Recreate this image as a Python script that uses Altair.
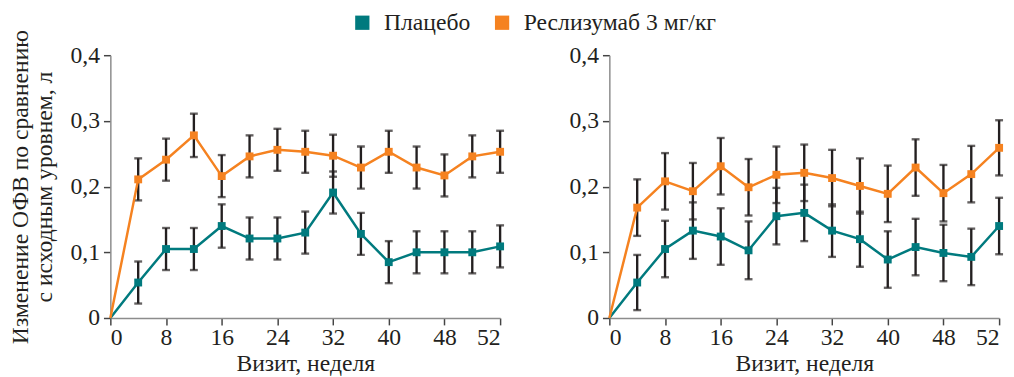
import altair as alt
import pandas as pd

# x positions of visits (evenly spaced, as drawn); tick labels as printed on the axis
visit_pos = [0, 4, 8, 12, 16, 20, 24, 28, 32, 36, 40, 44, 48, 52, 56]
x_tick_values = [0, 8, 16, 24, 32, 40, 48, 56]
x_tick_labels = ["0", "8", "16", "24", "32", "40", "48", "52"]
y_tick_values = [0, 0.1, 0.2, 0.3, 0.4]

groups = ["Плацебо", "Реслизумаб 3 мг/кг"]
colors = ["#007A7E", "#F58220"]

# Left panel
left_placebo = [0, 0.054, 0.105, 0.105, 0.140, 0.121, 0.121, 0.130, 0.191, 0.128, 0.085, 0.100, 0.100, 0.100, 0.109]
left_placebo_err = [0, 0.032, 0.032, 0.032, 0.033, 0.032, 0.032, 0.032, 0.032, 0.032, 0.032, 0.032, 0.032, 0.032, 0.032]
left_resl = [0, 0.211, 0.241, 0.278, 0.216, 0.246, 0.256, 0.253, 0.247, 0.229, 0.253, 0.229, 0.217, 0.246, 0.253]
left_resl_err = [0, 0.032, 0.032, 0.033, 0.032, 0.032, 0.032, 0.032, 0.032, 0.032, 0.032, 0.032, 0.032, 0.032, 0.032]

# Right panel
right_placebo = [0, 0.054, 0.105, 0.133, 0.124, 0.103, 0.155, 0.160, 0.133, 0.120, 0.089, 0.108, 0.099, 0.093, 0.140]
right_placebo_err = [0, 0.042, 0.043, 0.043, 0.043, 0.044, 0.043, 0.043, 0.040, 0.042, 0.043, 0.043, 0.043, 0.043, 0.043]
right_resl = [0, 0.168, 0.208, 0.193, 0.231, 0.199, 0.218, 0.221, 0.213, 0.201, 0.189, 0.229, 0.190, 0.219, 0.259]
right_resl_err = [0, 0.043, 0.043, 0.043, 0.043, 0.043, 0.043, 0.043, 0.043, 0.042, 0.043, 0.043, 0.043, 0.043, 0.042]

FONT = "Liberation Serif"
INK = "#231F20"
FS = 24


def make_df(placebo, placebo_err, resl, resl_err):
    rows = []
    for g, vals, errs in [(groups[0], placebo, placebo_err), (groups[1], resl, resl_err)]:
        for x, v, e in zip(visit_pos, vals, errs):
            rows.append({"x": x, "group": g, "value": v, "lo": v - e, "hi": v + e})
    return pd.DataFrame(rows)


label_expr = ""
for v, l in zip(x_tick_values, x_tick_labels):
    label_expr += f"datum.value == {v} ? '{l}' : "
label_expr += "''"

y_label_expr = "datum.value == 0 ? '0' : replace(format(datum.value, '.1f'), '.', ',')"

axis_style = dict(labelFont=FONT, titleFont=FONT, labelFontSize=FS, titleFontSize=FS,
                  titleFontWeight="normal", labelColor=INK, titleColor=INK,
                  domainColor="#8C8C8C", domainWidth=1.5, tickColor="#444444",
                  tickWidth=1.5, tickSize=7, grid=False)


def panel(df, show_title):
    xenc = alt.X("x:Q", scale=alt.Scale(domain=[0, 56], nice=False),
                 axis=alt.Axis(values=x_tick_values, labelExpr=label_expr, labelPadding=1,
                               title="Визит, неделя", titlePadding=2, **axis_style))
    ytitle = ["Изменение ОФВ по сравнению", "с исходным уровнем, л"] if show_title else ""
    yaxis = alt.Axis(values=y_tick_values, labelExpr=y_label_expr, title=ytitle, labelPadding=4,
                     titlePadding=14, titleLineHeight=24, **axis_style)
    yenc = alt.Y("value:Q", scale=alt.Scale(domain=[0, 0.4], nice=False), axis=yaxis)
    color = alt.Color("group:N", scale=alt.Scale(domain=groups, range=colors),
                      legend=alt.Legend(title=None, orient="none", direction="horizontal",
                                        legendX=244, legendY=-45, symbolType="square",
                                        symbolSize=210, labelFontSize=FS, labelFont=FONT,
                                        labelColor=INK, columnPadding=20, labelLimit=400,
                                        symbolStrokeWidth=0, labelOffset=10))
    err_df = df[df.x > 0]
    rules = alt.Chart(err_df).mark_rule(color=INK, strokeWidth=2.4).encode(
        x="x:Q", y="lo:Q", y2="hi:Q")
    caps_lo = alt.Chart(err_df).mark_tick(color=INK, orient="horizontal", size=8, thickness=2.4).encode(
        x="x:Q", y="lo:Q")
    caps_hi = alt.Chart(err_df).mark_tick(color=INK, orient="horizontal", size=8, thickness=2.4).encode(
        x="x:Q", y="hi:Q")
    lines = alt.Chart(df).mark_line(strokeWidth=2.5).encode(x=xenc, y=yenc, color=color)
    pts = alt.Chart(err_df).mark_point(shape="square", filled=True, size=64, opacity=1).encode(
        x="x:Q", y="value:Q", color=alt.Color("group:N", scale=alt.Scale(domain=groups, range=colors)))
    return alt.layer(rules, caps_lo, caps_hi, lines, pts).properties(width=396, height=267)


left = panel(make_df(left_placebo, left_placebo_err, left_resl, left_resl_err), True)
right = panel(make_df(right_placebo, right_placebo_err, right_resl, right_resl_err), False)

chart = alt.hconcat(left, right, spacing=65).properties(
    padding={"left": 0, "top": 0, "right": 2, "bottom": 0}
).configure_view(stroke=None)

chart.save("out.html", embed_options={"renderer": "svg", "actions": False})
